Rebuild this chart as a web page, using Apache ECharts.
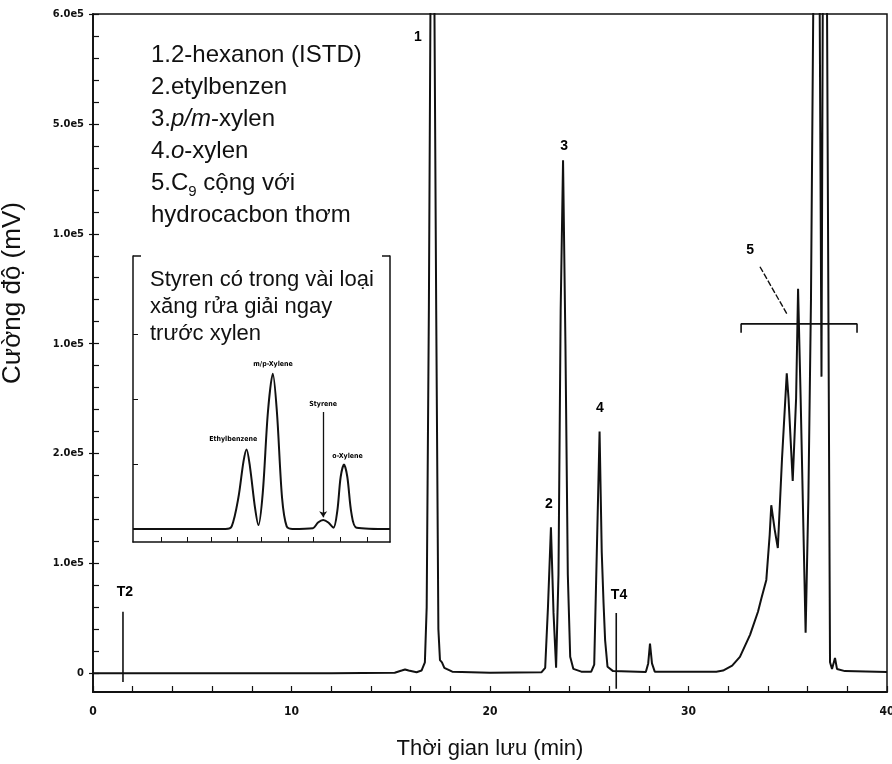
<!DOCTYPE html>
<html>
<head>
<meta charset="utf-8">
<script src="https://cdn.jsdelivr.net/npm/echarts@6/dist/echarts.min.js"></script>
<style>
  html, body { margin: 0; padding: 0; background: #fff; }
  #chart { width: 892px; height: 764px; }
</style>
</head>
<body>
<div id="chart"></div>
<script>
// main chromatogram: retention time (min) vs intensity (mV)
var traceTime = [0, 6, 12, 15.2, 15.55, 15.72, 15.9, 16.3, 16.55, 16.72, 16.81, 16.92, 17.01, 17.19, 17.29, 17.4, 17.48, 17.58, 17.7, 18.1,
  20, 22.6, 22.78, 22.92, 23.07, 23.2, 23.33, 23.45, 23.56, 23.68, 23.8, 23.92, 24.04, 24.2, 24.6,
  25.1, 25.25, 25.38, 25.52, 25.63, 25.72, 25.8, 25.92, 26.2, 27.85, 27.97, 28.06, 28.16, 28.3,
  31.4, 31.74, 32.2, 32.59, 33.1, 33.5, 33.67, 33.92, 34.09, 34.17, 34.34, 34.5, 34.71, 34.95, 35.04, 35.25,
  35.42, 35.52, 35.65, 35.9, 36.04, 36.17, 36.3, 36.6, 36.7, 36.77, 36.97, 37.13, 37.23, 37.38, 37.48, 37.88, 40];
var traceSignal = [0, 0, 0, 500, 2500, 3500, 2500, 1000, 2500, 10000, 60000, 330000, 640000, 640000, 330000, 40000, 12000, 10000, 5000, 1500,
  500, 1000, 5000, 60000, 133000, 55000, 5000, 90000, 330000, 467000, 300000, 90000, 15000, 4000, 1500,
  1500, 8000, 110000, 220000, 110000, 64000, 30000, 6000, 2000, 1200, 9000, 27000, 9000, 1500,
  1500, 2500, 7000, 15000, 35000, 56000, 68000, 85000, 126000, 153000, 131000, 114000, 195000, 273000, 250000, 175000,
  250000, 350000, 250000, 37000, 160000, 340000, 640000, 640000, 270000, 640000, 640000, 10000, 4000, 14000, 4000, 2000, 1200];

// T2 / T4 time markers
var markerNames = ['T2', 'T4'];
var markerTime = [1.51, 26.36];
var markerBottom = [-8000, -14000];
var markerTop = [56000, 55000];

// peak labels
var peakLabels = ['1', '2', '3', '4', 'T2', 'T4', '5'];
var peakLabelTime = [16.37, 22.97, 23.73, 25.54, 1.61, 26.5, 33.1];
var peakLabelSignal = [579000, 154000, 480000, 241000, 74000, 71000, 385000];

// bracket for group 5
var bracketTime = [32.65, 32.65, 38.49, 38.49];
var bracketSignal = [310000, 318000, 318000, 310000];
var pointerTime = [33.6, 34.96];
var pointerSignal = [370000, 327000];

// axes
var xMin = 0, xMax = 40;
var yMin = -17000, yMax = 600000;
var yTickValues = [0, 100000, 200000, 300000, 400000, 500000, 600000];
var yTickLabels = ['0', '1.0e5', '2.0e5', '1.0e5', '1.0e5', '5.0e5', '6.0e5'];
var yMinorValues = [];
for (var k = 0; k <= 30; k++) yMinorValues.push(k * 20000);

// inset chromatogram (arbitrary units)
var insetTime = [0, 3.6, 3.84, 4.1, 4.3, 4.42, 4.55, 4.75, 4.88, 5.05, 5.25, 5.44, 5.6, 5.8, 5.98, 6.2,
  7.0, 7.2, 7.4, 7.6, 7.8, 7.95, 8.08, 8.21, 8.34, 8.5, 8.7, 10];
var insetSignal = [0, 0, 1, 12, 26, 30.6, 24, 8, 1.5, 14, 45, 59.7, 45, 12, 1, 0,
  0.3, 2.5, 3.5, 2.5, 0.5, 7, 20, 24.8, 20, 6, 0.5, 0];
var insetLabels = ['Ethylbenzene', 'm/p-Xylene', 'Styrene', 'o-Xylene'];
var insetLabelTime = [3.9, 5.45, 7.4, 8.35];
var insetLabelSignal = [34.5, 63.5, 48, 28];
var insetXTicks = [1.1, 2.1, 3.05, 4.05, 5.0, 6.05, 7.0, 8.05, 9.1];
var insetYTicks = [25, 50, 75];

var legendLines = [
  '1.2-hexanon (ISTD)',
  '2.etylbenzen',
  '3.{i|p/m}-xylen',
  '4.{i|o}-xylen',
  '5.C{sub|9} cộng với',
  'hydrocacbon thơm'
];
var insetCaption = ['Styren có trong vài loại', 'xăng rửa giải ngay', 'trước xylen'];

var FONT = "'Liberation Sans', Arial, sans-serif";
var TICKFONT = "'DejaVu Sans Condensed', 'Liberation Sans', sans-serif";

function zip(a, b) {
  return a.map(function (v, i) { return [v, b[i]]; });
}

var chart = echarts.init(document.getElementById('chart'));

var markerSeries = markerNames.map(function (n, i) {
  return {
    name: n,
    type: 'line',
    data: [[markerTime[i], markerBottom[i]], [markerTime[i], markerTop[i]]],
    symbol: 'none',
    lineStyle: { color: '#111', width: 1.6 },
    silent: true
  };
});

var option = {
  animation: false,
  backgroundColor: '#fff',
  title: [
    {
      text: legendLines.join('\n'),
      left: 146, top: 34,
      textStyle: {
        fontFamily: FONT, fontSize: 24, fontWeight: 'normal', color: '#111', lineHeight: 32,
        rich: {
          i: { fontFamily: FONT, fontSize: 24, fontStyle: 'italic', color: '#111', lineHeight: 32 },
          sub: { fontFamily: FONT, fontSize: 15, color: '#111', lineHeight: 16, verticalAlign: 'bottom' }
        }
      }
    },
    {
      text: insetCaption.join('\n'),
      left: 145, top: 261,
      textStyle: { fontFamily: FONT, fontSize: 22, fontWeight: 'normal', color: '#111', lineHeight: 27 }
    }
  ],
  grid: [
    { left: 93, right: 5, top: 14, bottom: 72, show: true, borderColor: '#111', borderWidth: 1.5, outerBoundsMode: 'none' },
    { left: 133, top: 256, width: 257, height: 286, outerBoundsMode: 'none' }
  ],
  xAxis: [
    {
      type: 'value', gridIndex: 0, min: xMin, max: xMax, interval: 2,
      name: 'Thời gian lưu (min)', nameLocation: 'middle', nameGap: 46,
      nameTextStyle: { fontFamily: FONT, fontSize: 22, color: '#111' },
      axisLine: { show: true, onZero: false, lineStyle: { color: '#111', width: 1.8 } },
      axisTick: { show: true, inside: true, length: 6, lineStyle: { color: '#111', width: 1.2 } },
      axisLabel: {
        margin: 14, fontFamily: TICKFONT, fontWeight: 'bold', fontSize: 12, color: '#111',
        formatter: function (v) { return v % 10 === 0 ? String(v) : ''; }
      },
      splitLine: { show: false }
    },
    {
      type: 'value', gridIndex: 1, min: 0, max: 10,
      axisLine: { show: true, onZero: false, lineStyle: { color: '#111', width: 1.5 } },
      axisTick: { show: true, inside: true, length: 5, customValues: insetXTicks, lineStyle: { color: '#111' } },
      axisLabel: { show: false },
      splitLine: { show: false }
    }
  ],
  yAxis: [
    {
      type: 'value', gridIndex: 0, min: yMin, max: yMax,
      name: 'Cường độ (mV)', nameLocation: 'middle', nameGap: 67, nameRotate: 90,
      nameTextStyle: { fontFamily: FONT, fontSize: 26, color: '#111', padding: [0, 0, 0, 120] },
      axisLine: { show: true, onZero: false, lineStyle: { color: '#111', width: 1.8 } },
      axisTick: { show: true, inside: true, length: 6, customValues: yMinorValues, lineStyle: { color: '#111', width: 1.2 } },
      axisLabel: {
        margin: 9, fontFamily: TICKFONT, fontWeight: 'bold', fontSize: 11, color: '#111',
        customValues: yTickValues,
        formatter: function (v) {
          var i = yTickValues.indexOf(v);
          return i >= 0 ? yTickLabels[i] : '';
        }
      },
      splitLine: { show: false }
    },
    {
      type: 'value', gridIndex: 0, min: yMin, max: yMax, position: 'left',
      axisLine: { show: false, onZero: false },
      axisTick: { show: true, inside: false, length: 4, customValues: yTickValues, lineStyle: { color: '#111', width: 1.2 } },
      axisLabel: { show: false },
      splitLine: { show: false }
    },
    {
      type: 'value', gridIndex: 1, min: -5, max: 105,
      axisLine: { show: true, onZero: false, lineStyle: { color: '#111', width: 1.5 } },
      axisTick: { show: true, inside: true, length: 5, customValues: insetYTicks, lineStyle: { color: '#111' } },
      axisLabel: { show: false },
      splitLine: { show: false }
    },
    {
      type: 'value', gridIndex: 1, min: -5, max: 105, position: 'right',
      axisLine: { show: true, onZero: false, lineStyle: { color: '#111', width: 1.5 } },
      axisTick: { show: false },
      axisLabel: { show: false },
      splitLine: { show: false }
    }
  ],
  graphic: [
    { type: 'line', shape: { x1: 133, y1: 256, x2: 141, y2: 256 }, style: { stroke: '#111', lineWidth: 1.5 } },
    { type: 'line', shape: { x1: 382, y1: 256, x2: 390, y2: 256 }, style: { stroke: '#111', lineWidth: 1.5 } }
  ],
  series: [
    {
      name: 'chromatogram',
      type: 'line',
      xAxisIndex: 0, yAxisIndex: 0,
      data: zip(traceTime, traceSignal),
      symbol: 'none',
      clip: true,
      lineStyle: { color: '#111', width: 2 },
      z: 3
    }
  ].concat(markerSeries).concat([
    {
      name: 'group 5',
      type: 'line',
      data: zip(bracketTime, bracketSignal),
      symbol: 'none',
      lineStyle: { color: '#111', width: 1.6 }
    },
    {
      name: 'pointer',
      type: 'line',
      data: zip(pointerTime, pointerSignal),
      symbol: 'none',
      lineStyle: { color: '#111', width: 1.4, type: [6, 2] }
    },
    {
      name: 'labels',
      type: 'scatter',
      data: peakLabels.map(function (t, i) { return { name: t, value: [peakLabelTime[i], peakLabelSignal[i]] }; }),
      symbolSize: 0,
      itemStyle: { opacity: 1 },
      label: {
        show: true, position: 'inside', formatter: '{b}',
        fontFamily: FONT, fontWeight: 'bold', fontSize: 14, color: '#000', opacity: 1
      },
      silent: true
    },
    {
      name: 'inset',
      type: 'line',
      xAxisIndex: 1, yAxisIndex: 2,
      data: zip(insetTime, insetSignal),
      symbol: 'none',
      smooth: 0.3,
      lineStyle: { color: '#111', width: 2 }
    },
    {
      name: 'inset labels',
      type: 'scatter',
      xAxisIndex: 1, yAxisIndex: 2,
      data: insetLabels.map(function (t, i) { return { name: t, value: [insetLabelTime[i], insetLabelSignal[i]] }; }),
      symbolSize: 0,
      itemStyle: { opacity: 1 },
      label: {
        show: true, position: 'inside', formatter: '{b}',
        fontFamily: TICKFONT, fontWeight: 'bold', fontSize: 7, color: '#000'
      },
      markLine: {
        silent: true,
        symbol: ['none', 'arrow'],
        symbolSize: 6,
        label: { show: false },
        lineStyle: { color: '#111', width: 1.3, type: 'solid' },
        data: [[{ coord: [7.4, 45] }, { coord: [7.4, 4.5] }]]
      },
      silent: true
    }
  ])
};

chart.setOption(option);
</script>
</body>
</html>
